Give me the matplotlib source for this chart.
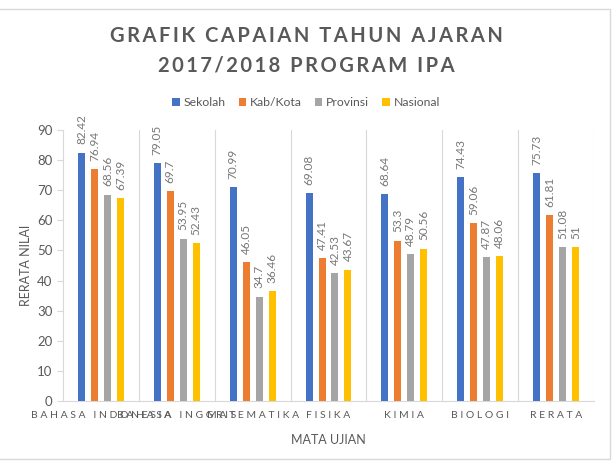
import numpy as np
import matplotlib
matplotlib.use("Agg")
import matplotlib.pyplot as plt
from matplotlib.patches import Rectangle

# data
categories = ["BAHASA INDONESIA", "BAHASA INGGRIS", "MATEMATIKA", "FISIKA",
              "KIMIA", "BIOLOGI", "RERATA"]
series_names = ["Sekolah", "Kab/Kota", "Provinsi", "Nasional"]
sekolah = [82.42, 79.05, 70.99, 69.08, 68.64, 74.43, 75.73]
kab_kota = [76.94, 69.7, 46.05, 47.41, 53.3, 59.06, 61.81]
provinsi = [68.56, 53.95, 34.7, 42.53, 48.79, 47.87, 51.08]
nasional = [67.39, 52.43, 36.46, 43.67, 50.56, 48.06, 51]
labels = [
    ["82.42", "79.05", "70.99", "69.08", "68.64", "74.43", "75.73"],
    ["76.94", "69.7", "46.05", "47.41", "53.3", "59.06", "61.81"],
    ["68.56", "53.95", "34.7", "42.53", "48.79", "47.87", "51.08"],
    ["67.39", "52.43", "36.46", "43.67", "50.56", "48.06", "51"],
]
colors = ["#4472C4", "#ED7D31", "#A5A5A5", "#FFC000"]
grey = "#595959"

plt.rcParams["font.family"] = ["Lato", "DejaVu Sans"]


def spaced(s, sp="\u200a"):
    # fake letter spacing
    return sp.join(list(s))


fig = plt.figure(figsize=(6.12, 4.63), dpi=100)
ax = fig.add_axes([63 / 612, 1 - 401 / 463, 531 / 612, 271 / 463])

x = np.arange(len(categories))
width = 0.092
pitch = 0.171
all_vals = [sekolah, kab_kota, provinsi, nasional]
for i, vals in enumerate(all_vals):
    pos = x + (i - 1.5) * pitch
    ax.bar(pos, vals, width, color=colors[i], label=series_names[i], zorder=3)
    for px, v, t in zip(pos, vals, labels[i]):
        ax.annotate(t, (px, v), xytext=(0, 6), textcoords="offset points",
                    rotation=90, ha="center", va="bottom", fontsize=8.5,
                    color="#767676")

ax.set_xlim(-0.5, len(categories) - 0.5)
ax.set_ylim(0, 90)
ax.set_yticks(range(0, 91, 10))
ax.tick_params(axis="y", colors=grey, labelsize=9.5, length=4, color="#D9D9D9")
ax.set_xticks(x)
ax.set_xticklabels([spaced(c, " ") for c in categories], fontsize=7.5,
                   color=grey)
ax.tick_params(axis="x", length=0, pad=7)

# category separators
for b in np.arange(0.5, len(categories) - 0.5 + 1, 1.0):
    ax.axvline(b, color="#D9D9D9", lw=0.8, zorder=1)

for s in ["top", "right"]:
    ax.spines[s].set_visible(False)
ax.spines["left"].set_color("#D9D9D9")
ax.spines["bottom"].set_color("#D9D9D9")

ax.set_ylabel("RERATA NILAI", fontsize=9, color=grey, labelpad=4)
ax.set_xlabel("MATA UJIAN", fontsize=9, color=grey, labelpad=10)

fig.text(0.5, 1 - 36 / 463, spaced("GRAFIK CAPAIAN TAHUN AJARAN", "\u2009"),
         ha="center", va="center", fontsize=14.5, fontweight="bold", color=grey)
fig.text(0.5, 1 - 65 / 463, spaced("2017/2018 PROGRAM IPA", "\u2009"),
         ha="center", va="center", fontsize=14.5, fontweight="bold", color=grey)

fig.legend(loc="center", bbox_to_anchor=(0.5, 1 - 103 / 463), ncol=4,
           frameon=False, fontsize=8.8, handlelength=0.6, handleheight=0.6,
           handletextpad=0.3, columnspacing=1.1, labelcolor=grey)

# outer chart frame
fig.patches.append(Rectangle((-0.01, 4 / 463), 610 / 612 + 0.01, 450 / 463,
                             transform=fig.transFigure, fill=False,
                             edgecolor="#D9D9D9", lw=1))

fig.savefig("out.png", dpi=100)
